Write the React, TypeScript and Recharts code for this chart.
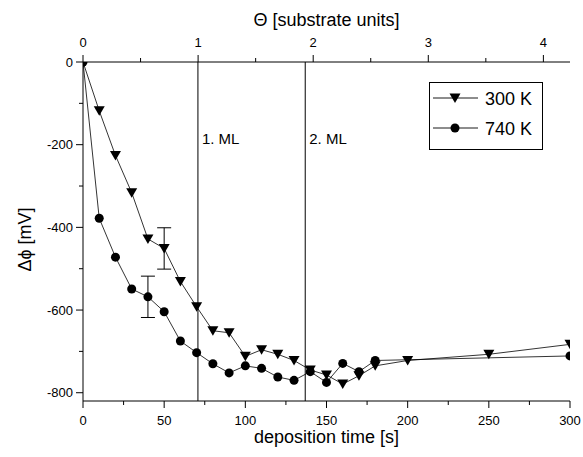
import React from 'react';
import { ComposedChart, Line, XAxis, YAxis, ReferenceLine, Scatter, ErrorBar, Legend, Label } from 'recharts';

const FONT = '"Liberation Sans", Arial, Helvetica, sans-serif';

// 300 K series (triangles)
const time300 = [0, 10, 20, 30, 40, 50, 60, 70, 80, 90, 100, 110, 120, 130, 140, 150, 160, 170, 180, 200, 250, 300];
const phi300 = [0, -118, -226, -316, -428, -451, -531, -592, -650, -655, -712, -696, -707, -722, -745, -757, -779, -759, -735, -722, -707, -683];
// 740 K series (circles)
const time740 = [0, 10, 20, 30, 40, 50, 60, 70, 80, 90, 100, 110, 120, 130, 140, 150, 160, 170, 180, 300];
const phi740 = [0, -378, -472, -549, -568, -604, -675, -703, -730, -752, -735, -741, -762, -770, -749, -775, -729, -749, -722, -711];

// error bars
const err300Time = [50];
const err300Phi = [-451];
const err300Size = [50];
const err740Time = [40];
const err740Phi = [-568];
const err740Size = [50];

// monolayer markers
const mlTimes = [70.8, 136.9];
const mlLabels = ['1. ML', '2. ML'];

// axes
const timeTicks = [0, 25, 50, 75, 100, 125, 150, 175, 200, 225, 250, 275, 300];
const phiTicks = [-800, -700, -600, -500, -400, -300, -200, -100, 0];
const thetaTicks = [0, 0.5, 1, 1.5, 2, 2.5, 3, 3.5, 4];
const secondsPerTheta = 70.9;
const timeMax = 300;
const phiMin = -820;
const thetaMax = timeMax / secondsPerTheta;

const data300 = time300.map((t, i) => ({ t, v: phi300[i] }));
const data740 = time740.map((t, i) => ({ t, v: phi740[i] }));
const errData300 = err300Time.map((t, i) => ({ t, v: err300Phi[i], e: err300Size[i] }));
const errData740 = err740Time.map((t, i) => ({ t, v: err740Phi[i], e: err740Size[i] }));
// invisible helper so the top/right frame axes get a domain
const frameData = [
  { t: 0, v: phiMin },
  { t: thetaMax, v: 0 },
];

const TriDot = (p: any) => {
  const { cx, cy } = p;
  if (cx == null || cy == null) return <g />;
  return <path d={`M${cx - 5.5},${cy - 4.5} L${cx + 5.5},${cy - 4.5} L${cx},${cy + 5} Z`} fill="#000" />;
};
const CircDot = (p: any) => {
  const { cx, cy } = p;
  if (cx == null || cy == null) return <g />;
  return <circle cx={cx} cy={cy} r={4.5} fill="#000" />;
};

const BottomTick = (p: any) => {
  const { x, y, payload } = p;
  const major = payload.value % 50 === 0;
  return (
    <g>
      <line x1={x} y1={y} x2={x} y2={y + (major ? 7 : 4)} stroke="#000" strokeWidth={1} />
      {major && (
        <text x={x} y={y + 24} textAnchor="middle" fontSize={13} fontFamily={FONT} fill="#000">
          {payload.value}
        </text>
      )}
    </g>
  );
};

const TopTick = (p: any) => {
  const { x, y, payload } = p;
  const major = Math.abs(payload.value - Math.round(payload.value)) < 1e-6;
  return (
    <g>
      <line x1={x} y1={y} x2={x} y2={y - (major ? 7 : 4)} stroke="#000" strokeWidth={1} />
      {major && (
        <text x={x} y={y - 15} textAnchor="middle" fontSize={13} fontFamily={FONT} fill="#000">
          {payload.value}
        </text>
      )}
    </g>
  );
};

const LeftTick = (p: any) => {
  const { x, y, payload } = p;
  const major = payload.value % 200 === 0;
  return (
    <g>
      <line x1={x} y1={y} x2={x - (major ? 7 : 4)} y2={y} stroke="#000" strokeWidth={1} />
      {major && (
        <text x={x - 10} y={y + 4.5} textAnchor="end" fontSize={13} fontFamily={FONT} fill="#000">
          {payload.value}
        </text>
      )}
    </g>
  );
};

const RightTick = (p: any) => {
  const { x, y, payload } = p;
  const major = payload.value % 200 === 0;
  return <line x1={x} y1={y} x2={x - (major ? 7 : 4)} y2={y} stroke="#000" strokeWidth={1} />;
};

const LegendBox = () => (
  <svg width={114} height={68} style={{ display: 'block' }}>
    <rect x={0.5} y={0.5} width={113} height={67} fill="#fff" stroke="#000" strokeWidth={1} />
    <line x1={4} y1={16} x2={49} y2={16} stroke="#000" strokeWidth={0.9} />
    <path d="M20.5,11.5 L31.5,11.5 L26,21 Z" fill="#000" />
    <text x={56} y={22.5} fontSize={18} fontFamily={FONT} fill="#000">300 K</text>
    <line x1={4} y1={46} x2={49} y2={46} stroke="#000" strokeWidth={0.9} />
    <circle cx={26} cy={46} r={4.5} fill="#000" />
    <text x={56} y={52.5} fontSize={18} fontFamily={FONT} fill="#000">740 K</text>
  </svg>
);

export default function App() {
  return (
    <div style={{ position: 'absolute', left: 0, top: 0, width: 583, height: 457, background: '#fff' }}>
      <ComposedChart width={583} height={457} margin={{ top: 0, right: 13, bottom: 0, left: 0 }}>
        <XAxis xAxisId="bottom" dataKey="t" type="number" domain={[0, timeMax]} ticks={timeTicks} interval={0} allowDataOverflow orientation="bottom" height={56} tickSize={0} tickMargin={0} tickLine={false} tick={<BottomTick />} stroke="#000" axisLine={{ stroke: '#000', strokeWidth: 1 }}>
          <Label content={(props: any) => { const vb = props.viewBox; return (<text x={vb.x + vb.width / 2} y={vb.y + 42} textAnchor="middle" fontSize={18} fontFamily={FONT} fill="#000">deposition time [s]</text>); }} />
        </XAxis>
        <XAxis xAxisId="top" dataKey="t" type="number" domain={[0, thetaMax]} ticks={thetaTicks} interval={0} allowDataOverflow orientation="top" height={62} tickSize={0} tickMargin={0} tickLine={false} tick={<TopTick />} stroke="#000" axisLine={{ stroke: '#000', strokeWidth: 1 }}>
          <Label content={(props: any) => { const vb = props.viewBox; return (<text x={vb.x + vb.width / 2} y={vb.y + 26} textAnchor="middle" fontSize={18} fontFamily={FONT} fill="#000">Θ [substrate units]</text>); }} />
        </XAxis>
        <YAxis yAxisId="left" type="number" domain={[phiMin, 0]} ticks={phiTicks} interval={0} allowDataOverflow width={83} tickSize={0} tickMargin={0} tickLine={false} tick={<LeftTick />} stroke="#000" axisLine={{ stroke: '#000', strokeWidth: 1 }}>
          <Label content={(props: any) => { const vb = props.viewBox; const cx = 25; const cy = vb.y + vb.height / 2 + 8; return (<text x={cx} y={cy} transform={`rotate(-90 ${cx} ${cy})`} textAnchor="middle" dominantBaseline="central" fontSize={18} fontFamily={FONT} fill="#000">Δϕ [mV]</text>); }} />
        </YAxis>
        <YAxis yAxisId="right" orientation="right" type="number" domain={[phiMin, 0]} ticks={phiTicks} interval={0} allowDataOverflow width={0} tickSize={0} tickMargin={0} tickLine={false} tick={<RightTick />} stroke="#000" axisLine={{ stroke: '#000', strokeWidth: 1 }} />
        <Line data={frameData} dataKey="v" xAxisId="top" yAxisId="right" stroke="none" dot={false} activeDot={false} isAnimationActive={false} legendType="none" />
        {mlTimes.map((t, i) => (
          <ReferenceLine key={'ml' + i} x={t} xAxisId="bottom" yAxisId="left" stroke="#000" strokeWidth={1}
            label={(props: any) => { const vb = props.viewBox; return (<text x={vb.x + 4} y={144} fontSize={15} fontFamily={FONT} fill="#000">{mlLabels[i]}</text>); }} />
        ))}
        <Line data={data300} dataKey="v" xAxisId="bottom" yAxisId="left" stroke="#000" strokeWidth={0.8} dot={(p: any) => <TriDot key={'t' + p.index} {...p} />} activeDot={false} isAnimationActive={false} legendType="none" />
        <Line data={data740} dataKey="v" xAxisId="bottom" yAxisId="left" stroke="#000" strokeWidth={0.8} dot={(p: any) => <CircDot key={'c' + p.index} {...p} />} activeDot={false} isAnimationActive={false} legendType="none" />
        <Scatter data={errData300} dataKey="v" xAxisId="bottom" yAxisId="left" shape={() => <g />} isAnimationActive={false} legendType="none">
          <ErrorBar dataKey="e" direction="y" width={7} stroke="#000" strokeWidth={1} isAnimationActive={false} />
        </Scatter>
        <Scatter data={errData740} dataKey="v" xAxisId="bottom" yAxisId="left" shape={() => <g />} isAnimationActive={false} legendType="none">
          <ErrorBar dataKey="e" direction="y" width={7} stroke="#000" strokeWidth={1} isAnimationActive={false} />
        </Scatter>
        <Legend layout="horizontal" verticalAlign="middle" align="center" content={() => <LegendBox />} wrapperStyle={{ left: 429, top: 82, width: 114, height: 68 }} />
      </ComposedChart>
    </div>
  );
}
